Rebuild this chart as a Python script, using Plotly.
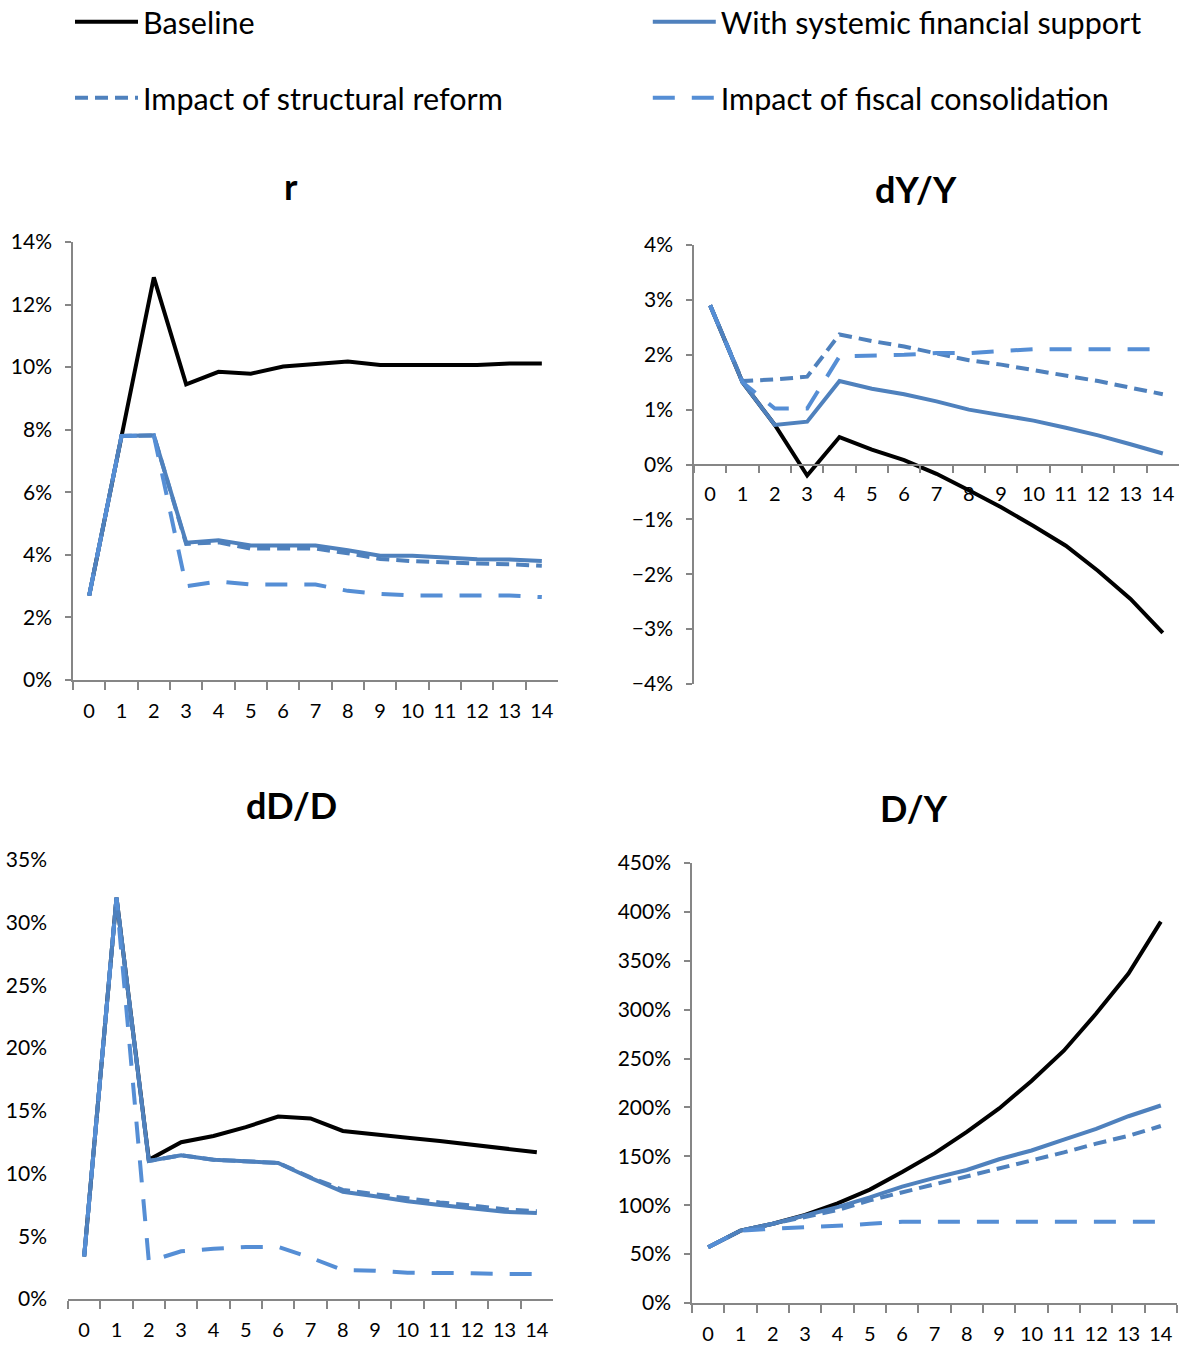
import plotly.graph_objects as go

periods = [str(i) for i in range(15)]

series_names = ["Baseline", "With systemic financial support",
                "Impact of structural reform", "Impact of fiscal consolidation"]

# Panel r (%)
r_baseline = [2.7, 7.8, 12.87, 9.45, 9.85, 9.79, 10.02, 10.1, 10.18, 10.07, 10.07, 10.07, 10.07, 10.12, 10.12]
r_systemic = [2.7, 7.8, 7.82, 4.39, 4.47, 4.3, 4.3, 4.3, 4.15, 3.97, 3.97, 3.91, 3.86, 3.85, 3.8]
r_structural = [2.7, 7.8, 7.82, 4.35, 4.4, 4.2, 4.2, 4.2, 4.05, 3.87, 3.8, 3.75, 3.72, 3.7, 3.65]
r_fiscal = [2.7, 7.8, 7.82, 3.0, 3.15, 3.05, 3.05, 3.05, 2.85, 2.75, 2.7, 2.7, 2.7, 2.7, 2.65]

# Panel dY/Y (%)
g_baseline = [2.9, 1.5, 0.72, -0.2, 0.5, 0.27, 0.08, -0.17, -0.47, -0.78, -1.12, -1.48, -1.94, -2.45, -3.07]
g_systemic = [2.9, 1.5, 0.72, 0.78, 1.52, 1.38, 1.28, 1.15, 1.0, 0.9, 0.8, 0.67, 0.53, 0.37, 0.2]
g_structural = [2.9, 1.52, 1.55, 1.6, 2.37, 2.25, 2.15, 2.02, 1.9, 1.82, 1.72, 1.62, 1.52, 1.4, 1.28]
g_fiscal = [2.9, 1.5, 1.02, 1.02, 1.97, 1.98, 2.0, 2.03, 2.03, 2.07, 2.1, 2.1, 2.1, 2.1, 2.1]

# Panel dD/D (%)
d_baseline = [3.4, 32.0, 11.1, 12.5, 13.0, 13.7, 14.55, 14.4, 13.4, 13.1, 12.85, 12.6, 12.3, 12.0, 11.7]
d_systemic = [3.4, 32.0, 11.0, 11.45, 11.1, 11.0, 10.85, 9.65, 8.55, 8.2, 7.8, 7.5, 7.25, 6.95, 6.85]
d_structural = [3.4, 32.0, 11.0, 11.45, 11.1, 11.0, 10.85, 9.7, 8.7, 8.35, 8.0, 7.7, 7.45, 7.15, 7.0]
d_fiscal = [3.4, 32.0, 3.0, 3.8, 4.0, 4.15, 4.15, 3.3, 2.3, 2.25, 2.1, 2.1, 2.05, 2.0, 2.0]

# Panel D/Y (%)
dy_baseline = [57, 74, 81, 90, 102, 116, 134, 153, 175, 199, 227, 258, 296, 337, 390]
dy_systemic = [57, 74, 81, 89, 98, 108, 119, 128, 136, 147, 156, 167, 178, 191, 202]
dy_structural = [57, 74, 81, 88, 95, 105, 113, 121, 129, 137, 146, 154, 163, 171, 181]
dy_fiscal = [57, 74, 76, 77, 79, 81, 83, 83, 83, 83, 83, 83, 83, 83, 83]

panel_titles = ["r", "dY/Y", "dD/D", "D/Y"]
panel_data = [
    [r_baseline, r_systemic, r_structural, r_fiscal],
    [g_baseline, g_systemic, g_structural, g_fiscal],
    [d_baseline, d_systemic, d_structural, d_fiscal],
    [dy_baseline, dy_systemic, dy_structural, dy_fiscal],
]
y_ranges = [[0, 14], [-4, 4], [0, 35], [0, 450]]
y_dticks = [2, 1, 5, 50]

W, H = 1184, 1347
FONT = "Lato, Calibri, Carlito, sans-serif"
AX = "#868686"

styles = [
    dict(color="#000000", width=4, dash="solid"),
    dict(color="#4F81BD", width=4, dash="solid"),
    dict(color="#4F81BD", width=4, dash="13px,7px"),
    dict(color="#558ED5", width=4, dash="22px,17px"),
]
legend_of = ["legend", "legend", "legend2", "legend2"]

# panel pixel boxes: (left, right, top, bottom)
boxes = [(73, 558, 242, 680), (694, 1179, 245, 684), (68, 553, 860, 1299), (692, 1177, 863, 1303)]

fig = go.Figure()
for p in range(4):
    xa = "x" if p == 0 else f"x{p+1}"
    ya = "y" if p == 0 else f"y{p+1}"
    for s in range(4):
        fig.add_trace(go.Scatter(
            x=periods, y=panel_data[p][s], mode="lines", name=series_names[s],
            line=dict(color=styles[s]["color"], width=styles[s]["width"], dash=styles[s]["dash"]),
            xaxis=xa, yaxis=ya, showlegend=(p == 0), legend=legend_of[s],
            hoverinfo="skip",
        ))

layout = dict(
    width=W, height=H, margin=dict(l=0, r=0, t=0, b=0, autoexpand=False),
    paper_bgcolor="white", plot_bgcolor="white",
    font=dict(family=FONT, color="#000000"),
    showlegend=True,
)

for p in range(4):
    l, r, t, b = boxes[p]
    xdom = [l / W, r / W]
    ydom = [1 - b / H, 1 - t / H]
    xkey = "xaxis" if p == 0 else f"xaxis{p+1}"
    ykey = "yaxis" if p == 0 else f"yaxis{p+1}"
    xa_name = "x" if p == 0 else f"x{p+1}"
    ya_name = "y" if p == 0 else f"y{p+1}"
    xaxis = dict(
        domain=xdom, type="category", range=[-0.5, 14.5],
        showline=True, linecolor=AX, linewidth=1.5,
        ticks="outside", tickson="boundaries", ticklen=8, tickcolor=AX, tickwidth=1.5,
        tickangle=0, ticklabelstandoff=12,
        tickfont=dict(size=20, family=FONT), showgrid=False, zeroline=False,
        anchor=ya_name, fixedrange=True,
    )
    if p == 1:
        lo, hi = y_ranges[p]
        xaxis.update(anchor="free", position=ydom[0] + (0 - lo) / (hi - lo) * (ydom[1] - ydom[0]))
    yaxis = dict(
        domain=ydom, range=y_ranges[p], dtick=y_dticks[p], tick0=0,
        ticksuffix="%", showgrid=False, zeroline=False,
        showline=(p != 2), linecolor=AX, linewidth=1.5,
        ticks="outside" if p != 2 else "", ticklen=6, tickcolor=AX, tickwidth=1.5,
        ticklabelstandoff=(9 if p != 2 else 20),
        tickfont=dict(size=21, family=FONT), anchor=xa_name, fixedrange=True,
    )
    layout[xkey] = xaxis
    layout[ykey] = yaxis

fig.update_layout(**layout)

title_pos = [(291, 186), (916, 189), (291, 805), (914, 808)]
for p in range(4):
    x, y = title_pos[p]
    fig.add_annotation(text=f"<b>{panel_titles[p]}</b>", x=x / W, y=1 - y / H,
                       xref="paper", yref="paper", showarrow=False,
                       xanchor="center", yanchor="middle",
                       font=dict(size=36, family=FONT, color="#000000"))

fig.update_layout(
    legend=dict(orientation="h", x=70 / W, y=1 - 22 / H, xanchor="left", yanchor="middle",
                entrywidthmode="fraction", entrywidth=0.488, itemwidth=63,
                font=dict(size=30.5, family=FONT), bgcolor="rgba(0,0,0,0)", traceorder="normal"),
    legend2=dict(orientation="h", x=70 / W, y=1 - 98 / H, xanchor="left", yanchor="middle",
                 entrywidthmode="fraction", entrywidth=0.488, itemwidth=63,
                 font=dict(size=30.5, family=FONT), bgcolor="rgba(0,0,0,0)", traceorder="normal"),
)

fig.write_html("out.html", config={"displayModeBar": False},
               post_script="document.body.style.margin='0px';document.body.style.overflow='hidden';")
